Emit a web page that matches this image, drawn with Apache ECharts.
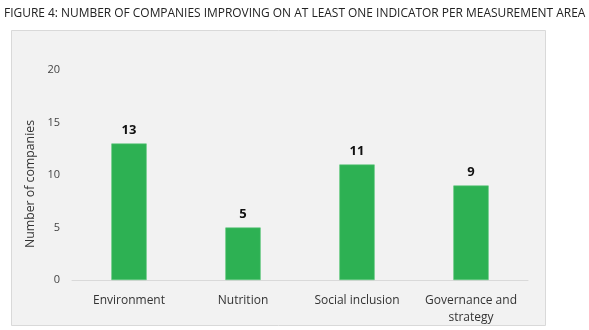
<!DOCTYPE html>
<html><head><meta charset="utf-8">
<script src="https://cdn.jsdelivr.net/npm/echarts@6/dist/echarts.min.js"></script>
<style>html,body{margin:0;padding:0;background:#fff}#c{width:589px;height:330px}</style>
</head><body><div id="c"></div>
<script>
const categories = ['Environment', 'Nutrition', 'Social inclusion', 'Governance and\nstrategy'];
const values = [13, 5, 11, 9];
const yTicks = [0, 5, 10, 15, 20];

const chart = echarts.init(document.getElementById('c'), null, {renderer: 'canvas'});
const F = '"Open Sans", sans-serif';
chart.setOption({
  animation: false,
  backgroundColor: '#ffffff',
  title: {
    text: 'FIGURE 4: NUMBER OF COMPANIES IMPROVING ON AT LEAST ONE INDICATOR PER MEASUREMENT AREA',
    left: -1, top: 3,
    textStyle: {fontFamily: F, fontSize: 11.95, fontWeight: 'normal', color: '#222'}
  },
  graphic: [{
    type: 'rect', z: -10,
    shape: {x: 11.5, y: 30.5, width: 534, height: 295},
    style: {fill: '#f2f2f2', stroke: '#d9d9d9', lineWidth: 1}
  }],
  grid: {left: 72, right: 61, top: 70, bottom: 50, containLabel: false},
  xAxis: {
    type: 'category', data: categories,
    axisLine: {lineStyle: {color: '#d9d9d9', width: 1}},
    axisTick: {show: false},
    axisLabel: {interval: 0, fontFamily: F, fontSize: 12, color: '#333', margin: 12, lineHeight: 17}
  },
  yAxis: {
    type: 'value', min: yTicks[0], max: yTicks[yTicks.length - 1], interval: 5,
    name: 'Number of companies', nameLocation: 'middle', nameGap: 25,
    nameTextStyle: {fontFamily: F, fontSize: 12.3, color: '#333', padding: [0, 18, 0, 0]},
    axisLine: {show: false}, axisTick: {show: false},
    splitLine: {show: false},
    axisLabel: {fontFamily: F, fontSize: 11, color: '#444', margin: 12}
  },
  series: [{
    type: 'bar', data: values, barWidth: '31%',
    itemStyle: {color: '#2db153', borderColor: '#5cc77a', borderWidth: 0.6},
    label: {show: true, position: 'top', distance: 7, fontFamily: F, fontSize: 13, fontWeight: 'bold', color: '#111'}
  }]
});
</script></body></html>
